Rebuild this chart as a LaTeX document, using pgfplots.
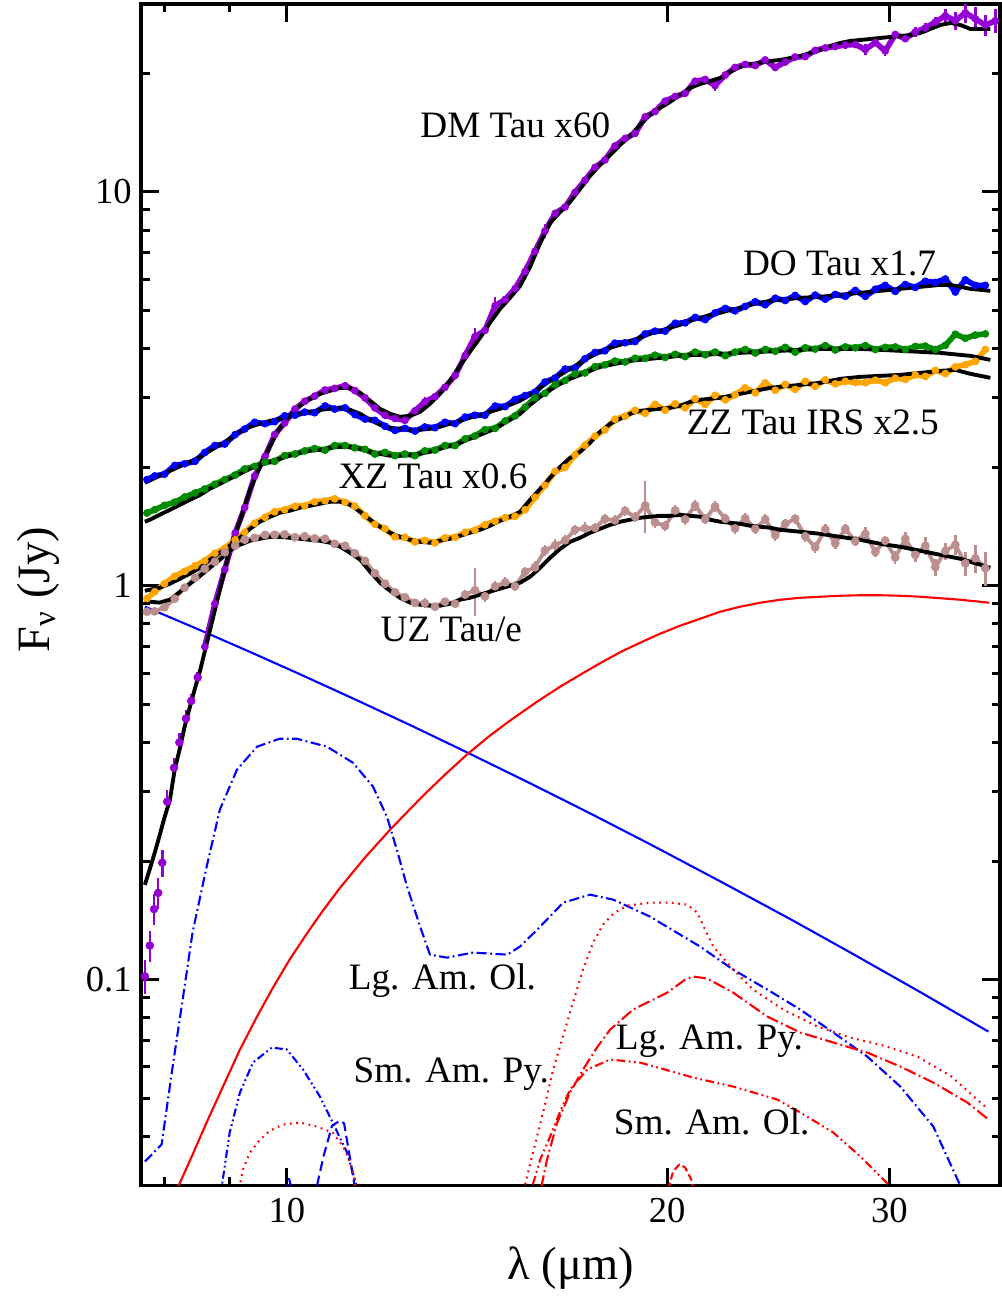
\documentclass[border=0pt]{standalone}
\usepackage{fontspec}
\setmainfont{Liberation Serif}
\usepackage{pgfplots}
\usepackage{pgfplotstable}
\pgfplotsset{compat=1.18}

\definecolor{dmviolet}{RGB}{148,0,211}
\definecolor{doblue}{RGB}{0,0,255}
\definecolor{xzgreen}{RGB}{0,139,0}
\definecolor{zzorange}{RGB}{255,165,0}
\definecolor{uzbrown}{RGB}{188,143,143}

% ---------------- observed spectra (lambda in micron, F_nu in Jy, relative error) -------------
\pgfplotstableread{
x y e
7.72 0.102 0.10
7.79 0.122 0.09
7.85 0.151 0.09
7.91 0.166 0.09
7.97 0.198 0.08
8.04 0.283 0.07
8.14 0.345 0.06
8.22 0.400 0.06
8.32 0.460 0.05
8.40 0.510 0.04
8.50 0.585 0.03
}\dmlow

\pgfplotstableread{
x y e
8.61 0.700 0.03
8.77 0.900 0.03
8.93 1.10 0.02
9.10 1.36 0.02
9.26 1.58 0.02
9.43 1.90 0.02
9.61 2.13 0.02
9.78 2.42 0.02
9.96 2.59 0.02
10.15 2.81 0.02
10.33 2.94 0.02
10.52 3.03 0.02
10.72 3.14 0.02
10.91 3.17 0.02
11.12 3.22 0.02
11.32 3.13 0.02
11.53 3.00 0.02
11.74 2.83 0.02
11.96 2.71 0.02
12.18 2.66 0.02
12.40 2.63 0.02
12.63 2.78 0.02
12.86 2.93 0.03
13.10 3.02 0.02
13.34 3.19 0.02
13.59 3.42 0.02
13.84 3.84 0.02
14.09 4.29 0.05
14.35 4.45 0.02
14.62 5.14 0.05
14.89 5.33 0.02
15.16 5.68 0.02
15.44 6.28 0.03
15.72 7.06 0.02
16.01 7.96 0.04
16.31 8.82 0.02
16.61 9.16 0.02
16.91 9.97 0.02
17.22 10.7 0.02
17.54 11.54 0.02
17.86 12.05 0.02
18.19 13.08 0.02
18.53 13.67 0.02
18.87 14.08 0.02
19.22 15.5 0.02
19.57 16.0 0.02
19.93 17.0 0.02
20.30 17.47 0.02
20.67 17.8 0.02
21.05 19.1 0.02
21.44 19.3 0.02
21.83 18.63 0.03
22.24 19.81 0.02
22.64 20.7 0.02
23.06 21.07 0.02
23.49 20.94 0.02
23.92 21.63 0.02
24.36 20.7 0.02
24.81 21.37 0.02
25.26 22.0 0.02
25.73 22.07 0.02
26.20 22.86 0.02
26.69 23.21 0.02
27.18 23.4 0.02
27.68 23.6 0.02
28.19 23.68 0.02
28.71 23.0 0.03
29.24 23.95 0.02
29.77 22.8 0.03
30.32 25.1 0.02
30.88 24.5 0.02
31.45 25.47 0.03
32.03 26.07 0.03
32.62 27.0 0.03
33.22 28.0 0.04
33.83 27.2 0.05
34.45 28.5 0.06
35.09 27.5 0.07
35.73 26.5 0.06
36.39 27.2 0.07
}\dmobs

\pgfplotstableread{
x y
7.75 1.86
7.86 1.90
8.00 1.92
8.15 2.02
8.30 2.04
8.46 2.07
8.61 2.18
8.77 2.27
8.93 2.29
9.10 2.42
9.26 2.50
9.43 2.60
9.61 2.58
9.78 2.61
9.96 2.70
10.15 2.71
10.33 2.76
10.52 2.75
10.72 2.86
10.91 2.81
11.12 2.83
11.32 2.72
11.53 2.65
11.74 2.63
11.96 2.54
12.18 2.48
12.40 2.51
12.63 2.47
12.86 2.53
13.10 2.52
13.34 2.60
13.59 2.58
13.84 2.68
14.09 2.71
14.35 2.71
14.62 2.86
14.89 2.85
15.16 2.97
15.44 3.04
15.72 3.10
16.01 3.29
16.31 3.37
16.61 3.55
16.91 3.57
17.22 3.77
17.54 3.91
17.86 3.95
18.19 4.13
18.53 4.14
18.87 4.17
19.22 4.36
19.57 4.43
19.93 4.43
20.30 4.64
20.67 4.65
21.05 4.80
21.44 4.74
21.83 4.93
22.24 5.06
22.64 4.99
23.06 5.12
23.49 5.26
23.92 5.17
24.36 5.37
24.81 5.30
25.26 5.46
25.73 5.27
26.20 5.47
26.69 5.34
27.18 5.49
27.68 5.43
28.19 5.62
28.71 5.43
29.24 5.66
29.77 5.79
30.32 5.59
30.88 5.82
31.45 5.72
32.03 5.93
32.62 5.89
33.22 6.01
33.83 5.57
34.45 5.98
35.09 5.79
35.73 5.79
}\doobs

\pgfplotstableread{
x y
7.75 1.53
7.86 1.56
8.00 1.60
8.15 1.63
8.30 1.68
8.46 1.72
8.61 1.76
8.77 1.81
8.93 1.86
9.10 1.91
9.26 1.98
9.43 2.01
9.61 2.06
9.78 2.07
9.96 2.14
10.15 2.16
10.33 2.20
10.52 2.23
10.72 2.21
10.91 2.27
11.12 2.27
11.32 2.24
11.53 2.22
11.74 2.16
11.96 2.18
12.18 2.14
12.40 2.16
12.63 2.14
12.86 2.20
13.10 2.21
13.34 2.27
13.59 2.27
13.84 2.36
14.09 2.40
14.35 2.49
14.62 2.51
14.89 2.62
15.16 2.70
15.44 2.84
15.72 3.00
16.01 3.08
16.31 3.24
16.61 3.32
16.91 3.45
17.22 3.47
17.54 3.60
17.86 3.64
18.19 3.72
18.53 3.70
18.87 3.78
19.22 3.78
19.57 3.85
19.93 3.80
20.30 3.87
20.67 3.82
21.05 3.92
21.44 3.86
21.83 3.92
22.24 3.84
22.64 3.92
23.06 3.98
23.49 3.90
23.92 3.98
24.36 3.94
24.81 4.03
25.26 3.92
25.73 4.02
26.20 3.99
26.69 4.07
27.18 3.97
27.68 4.04
28.19 4.02
28.71 4.07
29.24 3.98
29.77 4.03
30.32 4.04
30.88 3.98
31.45 4.05
32.03 4.06
32.62 3.98
33.22 4.08
33.83 4.35
34.45 4.25
35.09 4.33
35.73 4.36
}\xzobs

\pgfplotstableread{
x y
7.75 0.928
7.86 0.966
8.00 1.012
8.15 1.057
8.30 1.088
8.46 1.124
8.61 1.157
8.77 1.209
8.93 1.245
9.10 1.308
9.26 1.367
9.43 1.441
9.61 1.492
9.78 1.541
9.96 1.559
10.15 1.592
10.33 1.596
10.52 1.634
10.72 1.643
10.91 1.663
11.12 1.629
11.32 1.592
11.53 1.506
11.74 1.433
11.96 1.395
12.18 1.331
12.40 1.327
12.63 1.292
12.86 1.304
13.10 1.285
13.34 1.323
13.59 1.327
13.84 1.367
14.09 1.383
14.35 1.428
14.62 1.458
14.89 1.488
15.16 1.501
15.44 1.560
15.72 1.678
16.01 1.800
16.31 1.953
16.61 1.998
16.91 2.150
17.22 2.273
17.54 2.397
17.86 2.489
18.19 2.647
18.53 2.694
18.87 2.789
19.22 2.740
19.57 2.888
19.93 2.789
20.30 2.897
20.67 2.830
21.05 2.983
21.44 2.887
21.83 3.045
22.24 2.965
22.64 3.054
23.06 3.180
23.49 3.089
23.92 3.274
24.36 3.135
24.81 3.247
25.26 3.152
25.73 3.303
26.20 3.208
26.69 3.333
27.18 3.255
27.68 3.304
28.19 3.283
28.71 3.278
29.24 3.327
29.77 3.278
30.32 3.366
30.88 3.341
31.45 3.432
32.03 3.400
32.62 3.523
33.22 3.458
33.83 3.595
34.45 3.643
35.09 3.714
35.73 3.98
}\zzobs

\pgfplotstableread{
x y e
7.75 0.859 0.02
7.86 0.861 0.02
8.00 0.882 0.02
8.15 0.927 0.02
8.30 0.989 0.02
8.46 1.048 0.02
8.61 1.104 0.02
8.77 1.150 0.02
8.93 1.216 0.02
9.10 1.264 0.02
9.26 1.309 0.02
9.43 1.323 0.02
9.61 1.346 0.02
9.78 1.347 0.02
9.96 1.350 0.02
10.15 1.328 0.02
10.33 1.335 0.02
10.52 1.319 0.02
10.72 1.316 0.02
10.91 1.278 0.02
11.12 1.263 0.02
11.32 1.209 0.02
11.53 1.157 0.02
11.74 1.076 0.02
11.96 1.012 0.02
12.18 0.962 0.02
12.40 0.935 0.02
12.63 0.905 0.02
12.86 0.903 0.03
13.10 0.885 0.02
13.34 0.911 0.02
13.59 0.900 0.02
13.84 0.949 0.03
14.09 0.974 0.14
14.35 0.940 0.03
14.62 0.997 0.03
14.89 1.020 0.03
15.16 0.997 0.03
15.44 1.085 0.03
15.72 1.114 0.04
16.01 1.23 0.03
16.31 1.267 0.04
16.61 1.305 0.03
16.91 1.387 0.03
17.22 1.399 0.04
17.54 1.403 0.03
17.86 1.478 0.03
18.19 1.466 0.03
18.53 1.550 0.03
18.87 1.496 0.03
19.22 1.60 0.15
19.57 1.448 0.03
19.93 1.419 0.03
20.30 1.553 0.03
20.67 1.474 0.03
21.05 1.60 0.03
21.44 1.475 0.03
21.83 1.59 0.03
22.24 1.479 0.03
22.64 1.398 0.03
23.06 1.484 0.03
23.49 1.395 0.03
23.92 1.475 0.03
24.36 1.343 0.03
24.81 1.436 0.03
25.26 1.48 0.03
25.73 1.335 0.03
26.20 1.252 0.03
26.69 1.391 0.03
27.18 1.281 0.03
27.68 1.394 0.03
28.19 1.297 0.03
28.71 1.354 0.04
29.24 1.219 0.03
29.77 1.301 0.03
30.32 1.18 0.04
30.88 1.316 0.04
31.45 1.198 0.04
32.03 1.263 0.05
32.62 1.115 0.05
33.22 1.226 0.05
33.83 1.27 0.06
34.45 1.140 0.07
35.09 1.174 0.08
35.73 1.108 0.10
}\uzobs

% ---------------- model fits ----------------
\pgfplotstableread{
x y
7.72 0.174
7.79 0.191
7.86 0.210
7.93 0.232
8.00 0.258
8.08 0.286
8.15 0.341
8.23 0.388
8.30 0.439
8.38 0.493
8.46 0.551
8.54 0.612
8.69 0.769
8.85 0.977
9.01 1.234
9.18 1.462
9.35 1.753
9.52 2.004
9.70 2.266
9.87 2.518
10.05 2.701
10.24 2.864
10.43 2.983
10.62 3.071
10.82 3.126
11.02 3.181
11.22 3.181
11.43 3.089
11.64 2.949
11.85 2.814
12.07 2.733
12.29 2.685
12.52 2.701
12.75 2.764
12.98 2.897
13.22 3.071
13.46 3.314
13.71 3.617
13.96 3.926
14.22 4.262
14.48 4.651
14.75 5.047
15.02 5.383
15.30 5.774
15.58 6.451
15.87 7.424
16.16 8.343
16.46 8.898
16.76 9.433
17.07 10.18
17.38 10.98
17.70 11.71
18.03 12.41
18.36 13.16
18.70 13.87
19.04 14.80
19.39 15.68
19.75 16.34
20.11 16.93
20.48 17.63
20.86 18.37
21.24 18.80
21.64 19.13
22.03 19.47
22.44 20.16
22.85 20.77
23.27 21.13
23.70 21.26
24.14 21.50
24.58 21.63
25.04 21.88
25.50 22.14
25.97 22.53
26.44 22.94
26.93 23.48
27.43 23.89
27.93 24.17
28.45 24.31
28.97 24.45
29.50 24.60
30.05 24.74
30.60 24.88
31.16 25.03
31.74 25.32
32.32 25.93
32.92 26.54
33.52 26.85
34.14 26.54
34.77 25.93
35.41 25.93
36.06 25.93
}\dmfit

\pgfplotstableread{
x y
7.72 1.826
7.93 1.902
8.15 1.982
8.38 2.064
8.54 2.125
8.69 2.201
8.85 2.279
9.01 2.361
9.18 2.460
9.35 2.533
9.52 2.578
9.70 2.623
9.87 2.654
10.05 2.685
10.24 2.733
10.43 2.764
10.62 2.797
10.82 2.814
11.02 2.830
11.22 2.797
11.43 2.733
11.64 2.638
11.85 2.563
12.07 2.518
12.29 2.503
12.52 2.489
12.75 2.489
12.98 2.503
13.22 2.533
13.46 2.578
13.71 2.623
13.96 2.670
14.22 2.716
14.48 2.764
14.75 2.814
15.02 2.880
15.30 2.949
15.58 3.053
15.87 3.181
16.16 3.314
16.46 3.431
16.76 3.554
17.07 3.681
17.38 3.813
17.70 3.926
18.03 4.019
18.36 4.091
18.70 4.187
19.04 4.262
19.39 4.362
19.75 4.440
20.11 4.518
20.48 4.597
20.86 4.706
21.24 4.788
21.64 4.873
22.03 4.930
22.44 5.018
22.85 5.077
23.27 5.167
23.70 5.229
24.14 5.290
24.58 5.321
25.04 5.352
25.50 5.383
26.44 5.415
27.43 5.479
28.45 5.543
29.50 5.608
30.60 5.674
31.74 5.741
32.92 5.808
33.52 5.808
34.14 5.741
34.77 5.674
35.41 5.641
36.06 5.608
}\dofit

\pgfplotstableread{
x y
7.72 1.454
7.79 1.471
7.93 1.514
8.08 1.559
8.23 1.606
8.38 1.653
8.54 1.702
8.69 1.763
8.85 1.815
9.01 1.869
9.18 1.924
9.35 1.982
9.52 2.029
9.70 2.064
9.87 2.101
10.05 2.138
10.24 2.176
10.43 2.201
10.62 2.214
10.82 2.240
11.02 2.253
11.22 2.253
11.43 2.227
11.64 2.188
11.85 2.163
12.07 2.138
12.29 2.138
12.52 2.150
12.75 2.163
12.98 2.188
13.22 2.227
13.46 2.266
13.71 2.306
13.96 2.361
14.22 2.416
14.48 2.474
14.75 2.548
15.02 2.638
15.30 2.733
15.58 2.880
15.87 3.018
16.16 3.144
16.46 3.256
16.76 3.353
17.07 3.431
17.38 3.513
17.70 3.596
18.03 3.638
18.36 3.681
18.70 3.724
19.04 3.746
19.39 3.768
19.75 3.790
20.11 3.813
20.48 3.835
20.86 3.857
21.24 3.857
22.03 3.880
22.85 3.903
23.70 3.926
24.58 3.949
25.50 3.972
26.44 3.995
27.43 3.995
28.45 3.995
29.50 3.972
30.60 3.949
31.74 3.926
32.92 3.903
33.52 3.880
34.14 3.857
34.77 3.835
35.41 3.790
36.06 3.746
}\xzfit

\pgfplotstableread{
x y
7.72 0.971
7.79 0.977
7.93 0.988
8.08 1.012
8.23 1.042
8.38 1.073
8.54 1.111
8.69 1.164
8.85 1.213
9.01 1.263
9.18 1.324
9.35 1.395
9.52 1.454
9.70 1.497
9.87 1.532
10.05 1.550
10.24 1.578
10.43 1.596
10.62 1.615
10.82 1.634
11.02 1.634
11.22 1.606
11.43 1.541
11.64 1.471
11.85 1.412
12.07 1.363
12.29 1.331
12.52 1.308
12.75 1.293
12.98 1.286
13.22 1.301
13.46 1.316
13.71 1.339
13.96 1.363
14.22 1.387
14.48 1.420
14.75 1.462
15.02 1.497
15.30 1.541
15.58 1.653
15.87 1.763
16.16 1.880
16.46 2.004
16.76 2.113
17.07 2.188
17.38 2.306
17.70 2.460
18.03 2.578
18.36 2.654
18.70 2.733
19.04 2.781
19.39 2.797
19.75 2.814
20.11 2.830
20.48 2.864
20.86 2.931
21.24 2.966
21.64 2.983
22.03 3.001
22.44 3.036
22.85 3.071
23.27 3.107
23.70 3.144
24.14 3.181
24.58 3.200
25.04 3.218
25.50 3.237
26.44 3.275
27.43 3.353
28.45 3.392
29.50 3.412
30.60 3.431
31.74 3.472
32.92 3.513
33.83 3.533
34.77 3.452
35.41 3.412
36.06 3.372
}\zzfit

\pgfplotstableread{
x y
7.72 0.916
7.79 0.911
7.93 0.906
8.08 0.922
8.23 0.966
8.38 1.012
8.54 1.060
8.69 1.111
8.85 1.164
9.01 1.227
9.18 1.271
9.35 1.301
9.52 1.316
9.70 1.331
9.87 1.331
10.05 1.324
10.24 1.316
10.43 1.308
10.62 1.301
10.82 1.286
11.02 1.256
11.22 1.213
11.43 1.164
11.64 1.085
11.85 1.018
12.07 0.971
12.29 0.932
12.52 0.906
12.75 0.895
12.98 0.890
13.22 0.890
13.46 0.900
13.71 0.922
13.96 0.932
14.22 0.949
14.48 0.966
14.75 0.983
15.02 1.000
15.30 1.018
15.58 1.054
15.87 1.111
16.16 1.178
16.46 1.241
16.76 1.293
17.07 1.324
17.38 1.363
17.70 1.395
18.03 1.428
18.36 1.454
18.70 1.471
19.04 1.488
19.39 1.497
19.75 1.505
20.11 1.505
20.48 1.514
20.86 1.505
21.24 1.497
21.64 1.471
22.03 1.454
22.44 1.445
22.85 1.437
23.27 1.420
23.70 1.412
24.14 1.404
24.58 1.387
25.04 1.379
25.50 1.371
26.44 1.355
27.43 1.331
28.45 1.308
29.50 1.278
30.60 1.256
31.74 1.227
32.92 1.198
34.14 1.171
34.77 1.150
35.41 1.131
36.06 1.111
}\uzfit

% ---------------- model components ----------------
\pgfplotstableread{
x y
7.72 0.885
8.54 0.7712
9.35 0.6792
10.24 0.5962
11.36 0.5121
12.52 0.4429
13.91 0.3766
15.58 0.3152
17.38 0.2643
19.39 0.2207
22.03 0.1777
25.04 0.1424
27.93 0.1172
31.74 0.0929
35.93 0.07379
}\star

\pgfplotstableread{
x y
8.15 0.02846
8.38 0.0347
8.64 0.0434
8.93 0.05476
9.18 0.0664
9.47 0.08055
9.75 0.09543
10.05 0.1124
10.37 0.1308
10.68 0.1497
11.02 0.1712
11.53 0.2041
12.07 0.2402
12.82 0.2931
13.34 0.3313
13.91 0.3746
14.48 0.4162
14.94 0.4490
15.78 0.5076
16.46 0.5544
17.07 0.5942
17.70 0.6357
18.39 0.6799
19.04 0.7166
19.75 0.7556
20.48 0.7917
21.24 0.8245
22.03 0.8590
22.85 0.8846
23.70 0.9055
24.58 0.9214
25.50 0.9322
26.44 0.9378
27.43 0.9432
28.45 0.9460
29.50 0.9460
30.60 0.9432
31.74 0.9378
32.92 0.9296
34.14 0.9214
36.00 0.9055
}\disk

\pgfplotstableread{
x y
7.72 0.03451
7.96 0.03814
8.12 0.06014
8.27 0.08898
8.42 0.1316
8.64 0.1936
8.85 0.2701
9.13 0.3412
9.47 0.3903
9.87 0.4089
10.18 0.4089
10.76 0.3903
11.28 0.3554
11.70 0.3090
12.00 0.2593
12.22 0.2138
12.45 0.1722
12.75 0.1363
12.98 0.1157
13.39 0.1137
14.04 0.1171
14.94 0.1157
15.30 0.1213
15.87 0.1363
16.55 0.1568
17.38 0.1643
18.13 0.1596
19.39 0.1445
21.24 0.1213
22.56 0.1060
24.01 0.09432
25.50 0.08391
27.08 0.07336
28.81 0.06375
30.60 0.05351
32.50 0.04234
34.02 0.03071
34.77 0.02638
}\lgamol

\pgfplotstableread{
x y
8.85 0.02764
9.01 0.04089
9.18 0.05164
9.40 0.06155
9.73 0.06721
10.00 0.06644
10.30 0.05909
10.62 0.05047
10.87 0.04336
11.16 0.03638
11.36 0.02982
11.43 0.02764
}\smampy

\pgfplotstableread{
x y
9.97 0.0285
10.04 0.0312
10.11 0.0285
}\enstA

\pgfplotstableread{
x y
10.49 0.02764
10.56 0.02982
10.70 0.03595
10.86 0.04259
11.02 0.04386
11.10 0.04311
11.20 0.03638
11.30 0.03071
11.34 0.02764
}\enstB

\pgfplotstableread{
x y
9.15 0.02846
9.23 0.03295
9.35 0.03638
9.52 0.03925
9.70 0.04137
9.93 0.04285
10.24 0.04336
10.56 0.04234
10.87 0.04089
11.08 0.03768
11.22 0.03451
11.30 0.03162
11.36 0.02846
}\forstA

\pgfplotstableread{
x y
15.44 0.03018
15.58 0.03392
15.78 0.03995
16.01 0.04816
16.25 0.05909
16.55 0.07209
16.85 0.08743
17.16 0.1060
17.48 0.1242
17.80 0.1379
18.13 0.1471
18.60 0.1541
19.39 0.1568
20.11 0.1568
20.75 0.1550
21.13 0.1479
21.44 0.1339
21.76 0.1213
22.56 0.1060
23.40 0.09432
24.72 0.08391
26.30 0.07600
27.93 0.07125
29.67 0.06801
31.56 0.06375
33.52 0.05705
35.93 0.04679
}\forstB

\pgfplotstableread{
x y
15.90 0.02966
16.07 0.03492
16.37 0.04336
16.76 0.05164
17.16 0.05909
17.60 0.06721
18.03 0.07465
18.80 0.08391
20.01 0.09268
20.67 0.1000
20.97 0.1018
21.52 0.1006
22.56 0.09268
24.01 0.08055
25.50 0.07336
27.08 0.06921
28.81 0.06528
30.60 0.06014
32.50 0.05476
34.58 0.04873
35.93 0.04413
}\lgampy

\pgfplotstableread{
x y
15.66 0.03018
15.87 0.03492
16.16 0.03995
16.46 0.04624
16.76 0.05257
17.29 0.05909
18.03 0.06266
19.04 0.06155
19.93 0.05909
20.97 0.05640
22.56 0.05351
24.45 0.04959
25.50 0.04597
27.08 0.04089
28.45 0.03554
29.94 0.03018
30.17 0.02896
}\smamol

\pgfplotstableread{
x y
20.04 0.02931
20.22 0.03256
20.45 0.03392
20.67 0.03333
20.90 0.03108
21.01 0.02896
}\silica

\pgfplotsset{
  obs/.style={color=#1, line width=1.6pt, line join=round,
    mark=*, mark size=1pt, mark options={solid, fill=#1, draw=#1, line width=0.2pt}},
  obsdots/.style={color=#1, only marks,
    mark=*, mark size=1.1pt, mark options={solid, fill=#1, draw=#1, line width=0.2pt}},
  errs/.style={error bars/y dir=both, error bars/y explicit relative,
    error bars/error mark=none, error bars/error bar style={line width=0.7pt}},
  fit/.style={black, line width=1.1pt, line join=round},
  comp/.style={line width=0.6pt, line join=round},
}

\begin{document}
\begin{tikzpicture}
\begin{axis}[
  scale only axis, width=8.587cm, height=11.815cm,
  xmode=log, ymode=log,
  xmin=7.67, xmax=36.7, ymin=0.03, ymax=30,
  axis line style={line width=1.1pt},
  tick style={line width=0.85pt, black},
  major tick length=0.18cm, minor tick length=0.085cm,
  tick align=inside,
  xtick pos=both, ytick pos=both,
  xtick={10,20,30}, xticklabels={10,20,30},
  minor xtick={8,9},
  ytick={0.1,1,10}, yticklabels={0.1,1,10},
  minor ytick={0.04,0.05,0.06,0.07,0.08,0.09,0.2,0.3,0.4,0.5,0.6,0.7,0.8,0.9,2,3,4,5,6,7,8,9,20},
  ticklabel style={font=\fontsize{10.4}{12}\selectfont, inner sep=0pt},
  xticklabel style={yshift=-0.12cm},
  yticklabel style={xshift=-0.09cm},
  /pgf/number format/assume math mode=true,
]

% dust and photosphere components
\addplot[comp, blue] table {\star};
\addplot[comp, red] table {\disk};
\addplot[comp, blue, dash pattern=on 2.9pt off 1pt on 0.5pt off 1pt] table {\lgamol};
\addplot[comp, blue, dash pattern=on 2.3pt off 0.9pt on 0.5pt off 0.9pt on 0.5pt off 0.9pt] table {\smampy};
\addplot[comp, blue, dash pattern=on 2.8pt off 1.4pt] table {\enstA};
\addplot[comp, blue, dash pattern=on 2.8pt off 1.4pt] table {\enstB};
\addplot[comp, red, dash pattern=on 0.5pt off 1.3pt] table {\forstA};
\addplot[comp, red, dash pattern=on 0.5pt off 1.3pt] table {\forstB};
\addplot[comp, red, dash pattern=on 3.5pt off 1pt on 0.5pt off 1pt] table {\lgampy};
\addplot[comp, red, dash pattern=on 2.5pt off 1pt on 0.5pt off 1pt on 0.5pt off 1pt] table {\smamol};
\addplot[comp, red, dash pattern=on 2pt off 1pt] table {\silica};

% observed spectra
\addplot[obsdots=dmviolet, errs] table[x=x, y=y, y error=e] {\dmlow};
\addplot[obs=dmviolet, errs] table[x=x, y=y, y error=e] {\dmobs};
\addplot[obs=doblue] table {\doobs};
\addplot[obs=xzgreen] table {\xzobs};
\addplot[obs=zzorange] table {\zzobs};
\addplot[obs=uzbrown, line width=1.1pt, mark size=1.15pt, errs] table[x=x, y=y, y error=e] {\uzobs};

% fits
\addplot[fit] table {\dmfit};
\addplot[fit] table {\dofit};
\addplot[fit] table {\xzfit};
\addplot[fit] table {\zzfit};
\addplot[fit] table {\uzfit};

% labels
\begin{scope}[every node/.style={inner sep=0pt, anchor=base west, font=\fontsize{10.6}{12}\selectfont}]
\node at (axis cs:12.74,13.71) {DM Tau x60};
\node at (axis cs:22.94,6.121) {DO Tau x1.7};
\node at (axis cs:10.975,1.763) {XZ Tau x0.6};
\node at (axis cs:20.71,2.416) {ZZ Tau IRS x2.5};
\node at (axis cs:11.85,0.721) {UZ Tau/e};
\node at (axis cs:11.18,0.09432) {Lg. Am. Ol.};
\node at (axis cs:11.28,0.05476) {Sm. Am. Py.};
\node at (axis cs:18.20,0.06644) {Lg. Am. Py.};
\node at (axis cs:18.13,0.04043) {Sm. Am. Ol.};
\end{scope}
\end{axis}

\node[anchor=base, inner sep=0pt, font=\fontsize{13.2}{15}\selectfont]
  at ([yshift=-0.94cm]current axis.south) {λ (μm)};
\node[rotate=90, anchor=base, inner sep=0pt, font=\fontsize{13.2}{15}\selectfont]
  at ([xshift=-0.92cm, yshift=0.05cm]current axis.west) {F\textsubscript{ν} (Jy)};

\pgfresetboundingbox
\useasboundingbox ([shift={(-1.413cm,-1.105cm)}]current axis.south west)
  rectangle ([shift={(0.02cm,0.04cm)}]current axis.north east);
\end{tikzpicture}
\end{document}
